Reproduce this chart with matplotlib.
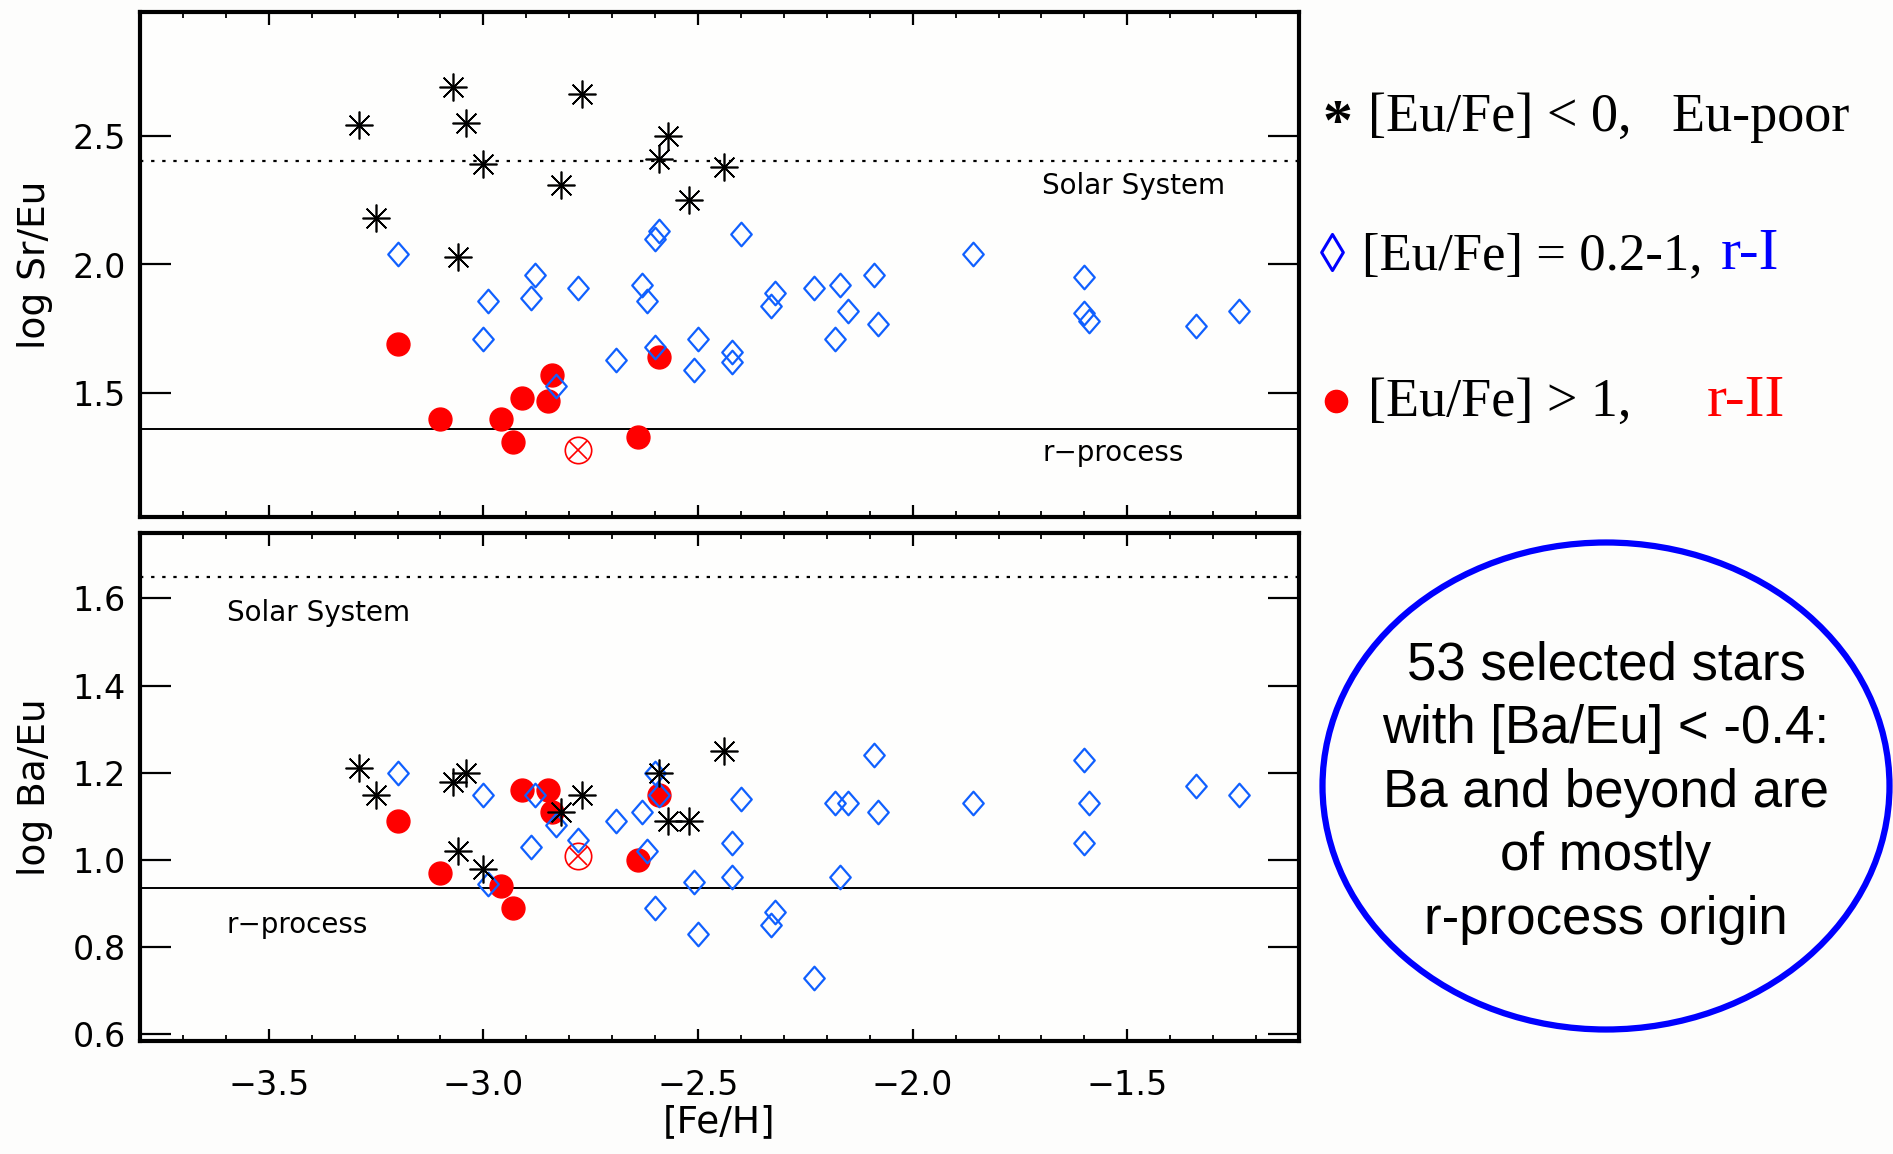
import numpy as np
import matplotlib as mpl
import matplotlib.pyplot as plt
from matplotlib.path import Path
from matplotlib.patches import Ellipse
from matplotlib.lines import Line2D

mpl.rcParams['font.family'] = ['DejaVu Sans']

# ---- data ----
# top panel: log Sr/Eu vs [Fe/H]
sr_poor_feh = [-3.29, -3.25, -3.07, -3.04, -3.00, -3.06, -2.77, -2.82, -2.57, -2.59, -2.52, -2.44]
sr_poor = [2.54, 2.18, 2.69, 2.55, 2.39, 2.03, 2.66, 2.31, 2.50, 2.41, 2.25, 2.38]

sr_r1_feh = [-3.20, -2.88, -2.99, -2.89, -2.78, -3.00, -2.63, -2.62, -2.60, -2.59, -2.40, -2.32,
             -2.33, -2.23, -2.69, -2.60, -2.50, -2.51, -2.42, -2.42, -2.83, -2.17, -2.09, -2.15,
             -2.08, -2.18, -1.86, -1.60, -1.60, -1.59, -1.34, -1.24]
sr_r1 = [2.04, 1.96, 1.86, 1.87, 1.91, 1.71, 1.92, 1.86, 2.10, 2.13, 2.12, 1.89,
         1.84, 1.91, 1.63, 1.68, 1.71, 1.59, 1.66, 1.62, 1.53, 1.92, 1.96, 1.82,
         1.77, 1.71, 2.04, 1.95, 1.81, 1.78, 1.76, 1.82]

sr_r2_feh = [-3.20, -3.10, -2.96, -2.93, -2.91, -2.85, -2.84, -2.59, -2.64]
sr_r2 = [1.69, 1.40, 1.40, 1.31, 1.48, 1.47, 1.57, 1.64, 1.33]
sr_cross_feh = [-2.78]
sr_cross = [1.28]

# bottom panel: log Ba/Eu vs [Fe/H]
ba_poor_feh = [-3.29, -3.25, -3.07, -3.04, -3.06, -3.00, -2.82, -2.77, -2.59, -2.57, -2.52, -2.44]
ba_poor = [1.21, 1.15, 1.18, 1.20, 1.02, 0.98, 1.11, 1.15, 1.20, 1.09, 1.09, 1.25]

ba_r1_feh = [-3.20, -3.00, -2.88, -2.89, -2.83, -2.78, -2.99, -2.69, -2.63, -2.62, -2.60, -2.59,
             -2.60, -2.51, -2.50, -2.42, -2.42, -2.40, -2.32, -2.33, -2.23, -2.18, -2.15, -2.08,
             -2.09, -2.17, -1.86, -1.60, -1.59, -1.60, -1.34, -1.24]
ba_r1 = [1.20, 1.15, 1.15, 1.03, 1.08, 1.045, 0.945, 1.09, 1.11, 1.02, 1.20, 1.15,
         0.89, 0.95, 0.83, 1.04, 0.96, 1.14, 0.88, 0.85, 0.73, 1.13, 1.13, 1.11,
         1.24, 0.96, 1.13, 1.23, 1.13, 1.04, 1.17, 1.15]

ba_r2_feh = [-3.20, -3.10, -2.96, -2.93, -2.91, -2.85, -2.84, -2.59, -2.64]
ba_r2 = [1.09, 0.97, 0.94, 0.89, 1.16, 1.16, 1.11, 1.15, 1.00]
ba_cross_feh = [-2.78]
ba_cross = [1.01]

solar_sr, rproc_sr = 2.40, 1.36
solar_ba, rproc_ba = 1.65, 0.935

xticks = [-3.5, -3.0, -2.5, -2.0, -1.5]

BLUE = '#1060ff'
RED = '#ff0000'


def lozenge(w):
    return Path([(0, 1), (w, 0), (0, -1), (-w, 0), (0, 1)],
                [Path.MOVETO, Path.LINETO, Path.LINETO, Path.LINETO, Path.CLOSEPOLY])


diamond = lozenge(0.87)
star = (8, 2, 0)

W, H = 1893, 1154
fig = plt.figure(figsize=(W / 100, H / 100), dpi=100)
fig.patch.set_facecolor('#fdfdfc')

ax1 = fig.add_axes([140 / W, 1 - 517 / H, 1159 / W, 505 / H])
ax2 = fig.add_axes([140 / W, 1 - 1041 / H, 1159 / W, 508 / H])


def panel(ax, fp, p, f1, r1, f2, r2, fc, c, solar, rproc):
    ax.set_facecolor('#fefefd')
    ax.plot(f2, r2, 'o', ms=16.5, color=RED, mec=RED, ls='none', zorder=3)
    ax.plot(fc, c, 'o', ms=19, mfc='none', mec=RED, mew=1.2, ls='none', zorder=3)
    ax.plot(fc, c, 'x', ms=13, color=RED, mew=1.2, ls='none', zorder=3)
    ax.plot(f1, r1, marker=diamond, ms=17, mfc='none', mec=BLUE, mew=1.6, ls='none', zorder=4)
    ax.plot(fp, p, marker=star, ms=20, color='black', mew=1.2, ls='none', zorder=5)
    ax.axhline(solar, color='black', ls=(0, (1.5, 3.5)), lw=1.6, zorder=2)
    ax.axhline(rproc, color='black', lw=1.4, zorder=2)
    ax.set_xlim(-3.8, -1.1)
    ax.set_xticks(xticks)
    ax.set_xticks(np.arange(-3.7, -1.1, 0.1), minor=True)
    ax.tick_params(axis='x', which='major', direction='in', length=9, width=1.6,
                   top=True, bottom=True, labelsize=24, pad=20)
    ax.tick_params(axis='x', which='minor', direction='in', length=4.5, width=1.3,
                   top=True, bottom=True)
    ax.tick_params(axis='y', which='major', direction='in', length=22, width=1.6,
                   left=True, right=True, labelsize=24, pad=10)
    for s in ax.spines.values():
        s.set_linewidth(3)


panel(ax1, sr_poor_feh, sr_poor, sr_r1_feh, sr_r1, sr_r2_feh, sr_r2,
      sr_cross_feh, sr_cross, solar_sr, rproc_sr)
ax1.set_ylim(1.02, 2.98)
ax1.set_yticks([1.5, 2.0, 2.5])
ax1.set_yticklabels(['1.5', '2.0', '2.5'])
ax1.tick_params(axis='x', labelbottom=False)
ax1.set_ylabel('log Sr/Eu', fontsize=27)
ax1.yaxis.set_label_coords(-0.075, 0.5)
ax1.text(-1.698, 2.273, 'Solar System', fontsize=20)
ax1.text(-1.698, 1.236, 'r\u2212process', fontsize=20)

panel(ax2, ba_poor_feh, ba_poor, ba_r1_feh, ba_r1, ba_r2_feh, ba_r2,
      ba_cross_feh, ba_cross, solar_ba, rproc_ba)
ax2.set_ylim(0.585, 1.75)
ax2.set_yticks([0.6, 0.8, 1.0, 1.2, 1.4, 1.6])
ax2.set_yticklabels(['0.6', '0.8', '1.0', '1.2', '1.4', '1.6'])
ax2.set_xticklabels(['\u22123.5', '\u22123.0', '\u22122.5', '\u22122.0', '\u22121.5'])
ax2.set_ylabel('log Ba/Eu', fontsize=27)
ax2.yaxis.set_label_coords(-0.075, 0.5)
ax2.set_xlabel('[Fe/H]', fontsize=27, labelpad=2)
ax2.text(-3.598, 1.548, 'Solar System', fontsize=20)
ax2.text(-3.598, 0.833, 'r\u2212process', fontsize=20)

# ---- legend text on the right ----
serif = ['Liberation Serif', 'DejaVu Serif']


def fx(px):
    return px / W


def fy(py):
    return 1 - py / H


fs = 39
fig.text(fx(1323), fy(140), '*', fontsize=fs + 4, family=serif, va='baseline', weight='bold')
fig.text(fx(1368), fy(131), '[Eu/Fe] < 0,   Eu-poor', fontsize=fs, family=serif, va='baseline')

fig.add_artist(Line2D([fx(1332)], [fy(252)], marker=lozenge(0.6), ms=26, mfc='none',
                      mec='#0000ff', mew=2.2, transform=fig.transFigure))
fig.text(fx(1362), fy(269), '[Eu/Fe] = 0.2-1,', fontsize=fs - 1, family=serif, va='baseline')
fig.text(fx(1721), fy(269), 'r-I', fontsize=fs + 4, family=serif, va='baseline', color='#0000ff')

fig.add_artist(Line2D([fx(1336)], [fy(401)], marker='o', ms=16, color=RED,
                      transform=fig.transFigure))
fig.text(fx(1368), fy(416), '[Eu/Fe] > 1,', fontsize=fs, family=serif, va='baseline')
fig.text(fx(1707), fy(416), 'r-II', fontsize=fs + 4, family=serif, va='baseline', color=RED)

# ---- ellipse note ----
fig.add_artist(Ellipse((fx(1606), fy(786)), 567 / W, 487 / H, transform=fig.transFigure,
                       fill=False, ec='#0000ff', lw=4.5))
note = ['53 selected stars', 'with [Ba/Eu] < -0.4:', 'Ba and beyond are',
        'of mostly', 'r-process origin']
base = [679, 743, 807, 870, 934]
for t, b in zip(note, base):
    fig.text(fx(1606), fy(b), t, fontsize=38, family=['Liberation Sans', 'DejaVu Sans'],
             ha='center', va='baseline')

plt.savefig('out.png', dpi=100, facecolor=fig.get_facecolor())
